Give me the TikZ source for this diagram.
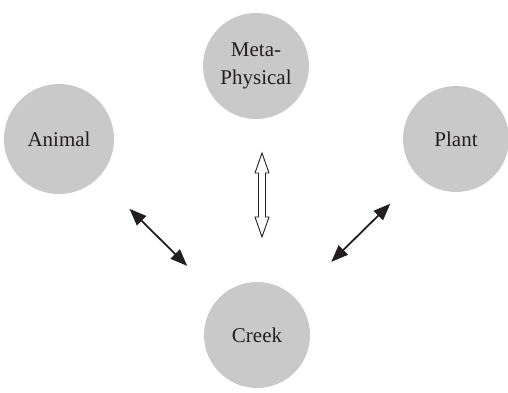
\documentclass[tikz,border=0pt]{standalone}
\usepackage{fontspec}
\setmainfont{Liberation Serif}
\usetikzlibrary{arrows.meta,calc}
\definecolor{discfill}{RGB}{201,201,202}
\definecolor{ink}{RGB}{35,31,32}
\begin{document}
\begin{tikzpicture}[x=1pt,y=-1pt,
  disc/.style={circle,fill=discfill,minimum size=106pt,inner sep=0pt,
    text=ink,align=center,font=\fontsize{21}{28}\selectfont},
  link/.style={draw=ink,line width=1.8pt,
    {Triangle[length=17pt,width=13pt]}-{Triangle[length=17pt,width=13pt]}}]
\useasboundingbox (0,0) rectangle (508,392);
% the four discs
\node[disc] (meta) at (256,66) {Meta-\\Physical};
\node[disc,minimum size=110pt] (animal) at (59,139) {Animal};
\node[disc] (plant) at (456,139) {Plant};
\node[disc] (creek) at (257,335) {Creek};
% solid two-way links
\draw[link,shorten <=44pt,shorten >=45pt] (animal) -- (creek);
\draw[link,shorten <=39pt,shorten >=51pt] (plant) -- (creek);
% hollow two-way arrow below the top disc
\coordinate (hc) at (262,195);
\draw[draw=ink,line width=0.9pt,fill=white,line join=miter]
  ($(hc)+(0,-42)$) -- ++(7,20) -- ++(-3.5,0) -- ++(0,44) -- ++(3.5,0)
  -- ++(-7,20) -- ++(-7,-20) -- ++(3.5,0) -- ++(0,-44) -- ++(-3.5,0) -- cycle;
\end{tikzpicture}
\end{document}
